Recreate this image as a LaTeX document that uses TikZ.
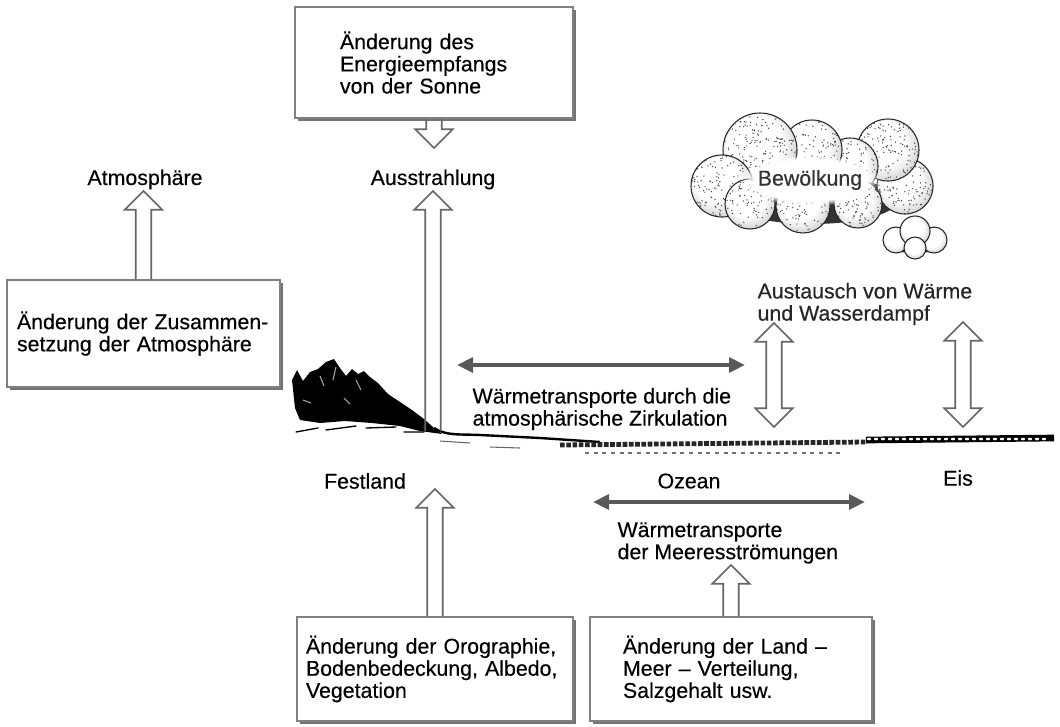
\documentclass[tikz,border=0pt]{standalone}
\usepackage{fontspec}
\setmainfont{Liberation Sans}[FakeBold=0.35]
\usetikzlibrary{arrows.meta,calc,shadows,fadings}

\newcommand\lbl{\fontsize{16}{16.6}\selectfont}
\pgfdeclareradialshading{puff}{\pgfpoint{-6bp}{8bp}}{color(0bp)=(white); color(18bp)=(white); color(34bp)=(black!25); color(45bp)=(black!55); color(50bp)=(black!80)}

% hollow block arrows: #1 tail, #2 tip (the tip takes the x of the tail)
\newcommand\fatup[2]{%
  \draw[fat] let \p1=(#1), \p2=(#2) in
    ({\x1-5.8pt},\y1) -- ({\x1-5.8pt},{\y2-14pt}) -- ({\x1-14pt},{\y2-14pt}) -- (\x1,\y2)
    -- ({\x1+14pt},{\y2-14pt}) -- ({\x1+5.8pt},{\y2-14pt}) -- ({\x1+5.8pt},\y1);}
\newcommand\fatdown[2]{%
  \draw[fat] let \p1=(#1), \p2=(#2) in
    ({\x1-5.8pt},\y1) -- ({\x1-5.8pt},{\y2+14pt}) -- ({\x1-14pt},{\y2+14pt}) -- (\x1,\y2)
    -- ({\x1+14pt},{\y2+14pt}) -- ({\x1+5.8pt},{\y2+14pt}) -- ({\x1+5.8pt},\y1);}
% #1 upper tip, #2 lower tip
\newcommand\fatboth[2]{%
  \draw[fat] let \p1=(#1), \p2=(#2) in
    (\x1,\y1) -- ({\x1+14pt},{\y1-14pt}) -- ({\x1+5.8pt},{\y1-14pt}) -- ({\x1+5.8pt},{\y2+14pt})
    -- ({\x1+14pt},{\y2+14pt}) -- (\x1,\y2) -- ({\x1-14pt},{\y2+14pt}) -- ({\x1-5.8pt},{\y2+14pt})
    -- ({\x1-5.8pt},{\y1-14pt}) -- ({\x1-14pt},{\y1-14pt}) -- cycle;}

\begin{document}
\begin{tikzpicture}[x=0.75pt,y=-0.75pt,
  every node/.style={font=\lbl,inner sep=1pt},
  box/.style={draw=black!50,line width=0.8pt,fill=white,align=left,
    drop shadow={shadow xshift=2.2pt,shadow yshift=-2.2pt,fill=black!55,opacity=1}},
  fat/.style={draw=black!60,line width=1.3pt,line join=miter},
  flow/.style={{Triangle[length=12pt,width=11pt]}-{Triangle[length=12pt,width=11pt]},line width=3.6pt,black!65},
  lobe/.style={shading=puff,draw=black!85,line width=0.8pt}]

\fill[white] (0,0) rectangle (1060,726);
\useasboundingbox (0,0) rectangle (1060,726);

% clouds
\fill[black!80] (812,200) ellipse (86 and 24);
\foreach \cx/\cy/\r in {905/186/28, 888/150/31, 850/166/28, 812/150/30, 760/150/37,
                        722/186/31, 750/204/25, 858/204/24, 803/206/27}
  \shadedraw[lobe] (\cx,\cy) circle (\r);
\begin{scope}
  \clip (905,186) circle (28) (888,150) circle (31) (850,166) circle (28) (812,150) circle (30)
    (760,150) circle (37) (722,186) circle (31) (750,204) circle (25) (858,204) circle (24)
    (803,206) circle (27);
  \pgfmathsetseed{11}
  \foreach \k in {1,...,1200}
    \fill[black!75] ({812+125*rand},{172+62*rand}) circle (0.7);
\end{scope}
\fill[white,path fading=circle with fuzzy edge 20 percent] (810,180) ellipse (70 and 26);
\fill[black!80] (915,244) ellipse (30 and 9);
\foreach \cx/\cy/\r in {896/240/13, 934/240/13, 915/231/15, 915/248/11}
  \shadedraw[lobe] (\cx,\cy) circle (\r);

% mountains and coast
\fill (292,380) -- (297,370) -- (303,381) -- (310,372) -- (318,369) -- (326,362) -- (334,359)
  -- (340,368) -- (346,376) -- (352,369) -- (358,374) -- (364,371) -- (370,377) -- (378,383)
  -- (388,394) -- (400,402) -- (412,410) -- (424,419) -- (434,428) -- (442,434) -- (420,431)
  -- (400,426) -- (372,423) -- (345,421) -- (320,423) -- (300,420) -- (295,408) -- cycle;
\draw[black!35,line width=0.8pt] (320,376) -- (324,386) (336,367) -- (333,380) (356,380) -- (361,390)
  (303,400) -- (311,403) (344,398) -- (350,404);
\draw[line width=1pt,line cap=round] (296,432) -- (318,428) (326,430) -- (356,426)
  (366,428) -- (396,427) (404,432) -- (424,432);
\draw[line width=1.8pt] (434,428) .. controls (446,436) and (460,434) .. (480,435) -- (540,438) -- (600,442);
\draw[black!60,line width=0.8pt] (440,441) -- (470,443) (490,447) -- (520,448);

% sea and ice
\draw[line width=3.6pt,black!85,dash pattern=on 3.5pt off 1.2pt] (560,445) -- (866,442);
\draw[line width=1.5pt,black!55,dash pattern=on 3pt off 3.5pt] (585,453) -- (840,453);
\draw[line width=5pt] (866,440) -- (1054,438);
\foreach \i in {869,876,...,1050}
  \fill[white] (\i,439) ellipse (2.2 and 1.3);

% boxes
\node[box,text width=141pt,inner xsep=33.75pt,minimum height=83.25pt] (sun) at (434,62.5)
  {Änderung des\\Energieempfangs\\von der Sonne};
\node[box,text width=189.75pt,inner xsep=7.5pt,minimum height=80.25pt] (gas) at (143.5,333.5)
  {Änderung der Zusammen-\\setzung der Atmosphäre};
\node[box,text width=193.5pt,inner xsep=6.75pt,minimum height=78pt] (land) at (435,669)
  {Änderung der Orographie,\\Bodenbedeckung, Albedo,\\Vegetation};
\node[box,text width=162pt,inner xsep=24.75pt,minimum height=78pt] (sea) at (731,669)
  {Änderung der Land –\\Meer – Verteilung,\\Salzgehalt usw.};

% labels
\node[anchor=south] (atm) at (145,191) {Atmosphäre};
\node[anchor=south] (out) at (433,191) {Ausstrahlung};
\node[black!80] (cloud) at (810,180) {Bewölkung};
\node[anchor=west,align=left,black!85] (exch) at (756,304) {Austausch von Wärme\\und Wasserdampf};
\node[anchor=west,align=left] (circ) at (471,409) {Wärmetransporte durch die\\atmosphärische Zirkulation};
\node (fest) at (365,481) {Festland};
\node (ozean) at (689,481) {Ozean};
\node (eis) at (958,478) {Eis};
\node[anchor=west,align=left] (curr) at (616,543) {Wärmetransporte\\der Meeresströmungen};

\coordinate (sunTip) at (434,148);
\coordinate (coast) at (433,431);
\coordinate (festTip) at (435,489);
\coordinate (currTip) at (730,565);
\coordinate (exA) at (774,323);
\coordinate (exB) at (774,427);
\coordinate (iceA) at (963,322);
\coordinate (iceB) at (963,427);
\coordinate (airW) at (457,365);
\coordinate (airE) at (745,365);
\coordinate (seaW) at (593,502);
\coordinate (seaE) at (865,502);

% arrows
\fatdown{sun.south}{sunTip}
\fatup{coast}{out.south}
\fatup{gas.north}{atm.south}
\fatup{land.north}{festTip}
\fatup{sea.north}{currTip}
\fatboth{exA}{exB}
\fatboth{iceA}{iceB}
\draw[flow] (airW) -- (airE);
\draw[flow] (seaW) -- (seaE);
\end{tikzpicture}
\end{document}
